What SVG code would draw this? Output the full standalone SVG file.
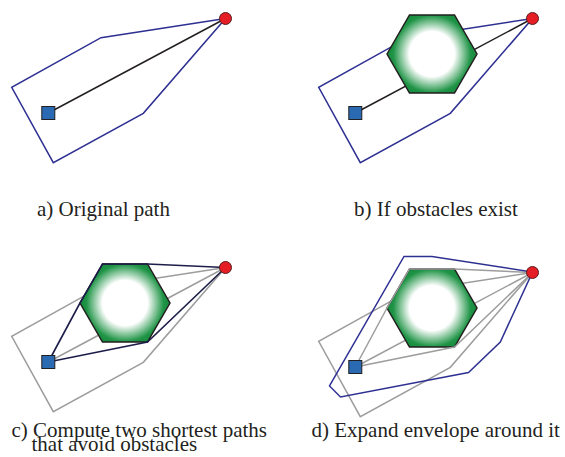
<svg xmlns="http://www.w3.org/2000/svg" width="565" height="457" viewBox="0 0 565 457">
  <style>
    .env { fill: none; stroke: #2e3192; stroke-width: 1.5; stroke-linejoin: miter; }
    .ghost { fill: none; stroke: #9d9d9d; stroke-width: 1.5; }
    .direct { fill: none; stroke: #231f20; stroke-width: 1.5; }
    .route { fill: none; stroke: #1d1d4a; stroke-width: 1.6; stroke-linejoin: miter; }
    .obstacle { fill: url(#obstacleFill); stroke: #231f20; stroke-width: 1.5; }
    .start { fill: #2a6ab3; stroke: #231f20; stroke-width: 1; }
    .goal { fill: #e51d25; stroke: #5a1c1c; stroke-width: 1; }
    .label { font-family: "Liberation Serif", "Times New Roman", serif; font-size: 21px; fill: #231f20; }
  </style>
  <defs>
    <radialGradient id="obstacleFill" cx="125" cy="54" r="45" gradientUnits="userSpaceOnUse">
      <stop offset="0" stop-color="#ffffff"/>
      <stop offset="0.5" stop-color="#ffffff"/>
      <stop offset="0.86" stop-color="#1f9446"/>
      <stop offset="1" stop-color="#168a3c"/>
    </radialGradient>
  </defs>

  <rect width="565" height="457" fill="#ffffff"/>

  <!-- a) original path -->
  <g id="panel-a">
    <g id="connectors-a">
      <polygon class="env" points="225.5,18.5 101,37.7 11.7,87.3 53.3,162.7 143.3,113.3"/>
      <line class="direct" x1="48.3" y1="113" x2="225.5" y2="18.5"/>
    </g>
    <g id="start-a"><rect class="start" x="41.8" y="106.5" width="13" height="13"/></g>
    <g id="goal-a"><circle class="goal" cx="225.5" cy="18.5" r="6"/></g>
    <text class="label" x="37" y="215.5">a) Original path</text>
  </g>

  <!-- b) obstacle in the way -->
  <g id="panel-b" transform="translate(307,0)">
    <g id="connectors-b">
      <polygon class="env" points="225.5,18.5 101,37.7 11.7,87.3 53.3,162.7 143.3,113.3"/>
      <line class="direct" x1="48.3" y1="113" x2="225.5" y2="18.5"/>
    </g>
    <g id="obstacle-b"><polygon class="obstacle" points="80,54 102.5,15 147.5,15 170,54 147.5,93 102.5,93"/></g>
    <g id="start-b"><rect class="start" x="41.8" y="106.5" width="13" height="13"/></g>
    <g id="goal-b"><circle class="goal" cx="225.5" cy="18.5" r="6"/></g>
    <text class="label" x="47" y="215.5">b) If obstacles exist</text>
  </g>

  <!-- c) two shortest paths around the obstacle -->
  <g id="panel-c" transform="translate(0,249)">
    <g id="connectors-c-back">
      <polygon class="ghost" points="225.5,18.5 101,37.7 11.7,87.3 53.3,162.7 143.3,113.3"/>
      <line class="ghost" x1="48.3" y1="113" x2="225.5" y2="18.5"/>
    </g>
    <g id="obstacle-c"><polygon class="obstacle" points="80,54 102.5,15 147.5,15 170,54 147.5,93 102.5,93"/></g>
    <g id="connectors-c-front">
      <polyline class="route" points="48.3,113 80,54 102.5,15 147.5,15 225.5,18.5"/>
      <polyline class="route" points="48.3,113 147.5,93 225.5,18.5"/>
    </g>
    <g id="start-c"><rect class="start" x="41.8" y="106.5" width="13" height="13"/></g>
    <g id="goal-c"><circle class="goal" cx="225.5" cy="18.5" r="6"/></g>
    <text class="label" x="11.5" y="187.5">c) Compute two shortest paths</text>
    <text class="label" x="31.5" y="201.5">that avoid obstacles</text>
  </g>

  <!-- d) expanded envelope -->
  <g id="panel-d" transform="translate(307,254)">
    <g id="connectors-d-back">
      <polygon class="ghost" points="225.5,18.5 101,37.7 11.7,87.3 53.3,162.7 143.3,113.3"/>
      <line class="ghost" x1="48.3" y1="113" x2="225.5" y2="18.5"/>
    </g>
    <g id="obstacle-d"><polygon class="obstacle" points="80,54 102.5,15 147.5,15 170,54 147.5,93 102.5,93"/></g>
    <g id="connectors-d-front">
      <polyline class="ghost" points="48.3,113 80,54 102.5,15 147.5,15 225.5,18.5"/>
      <polyline class="ghost" points="48.3,113 147.5,93 225.5,18.5"/>
      <polygon class="env" points="97,2.5 125,2.5 225.5,18 193.3,88 161.5,118.5 33.5,143 22.5,132"/>
    </g>
    <g id="start-d"><rect class="start" x="41.8" y="106.5" width="13" height="13"/></g>
    <g id="goal-d"><circle class="goal" cx="225.5" cy="18.5" r="6"/></g>
    <text class="label" x="4.5" y="183">d) Expand envelope around it</text>
  </g>
</svg>
